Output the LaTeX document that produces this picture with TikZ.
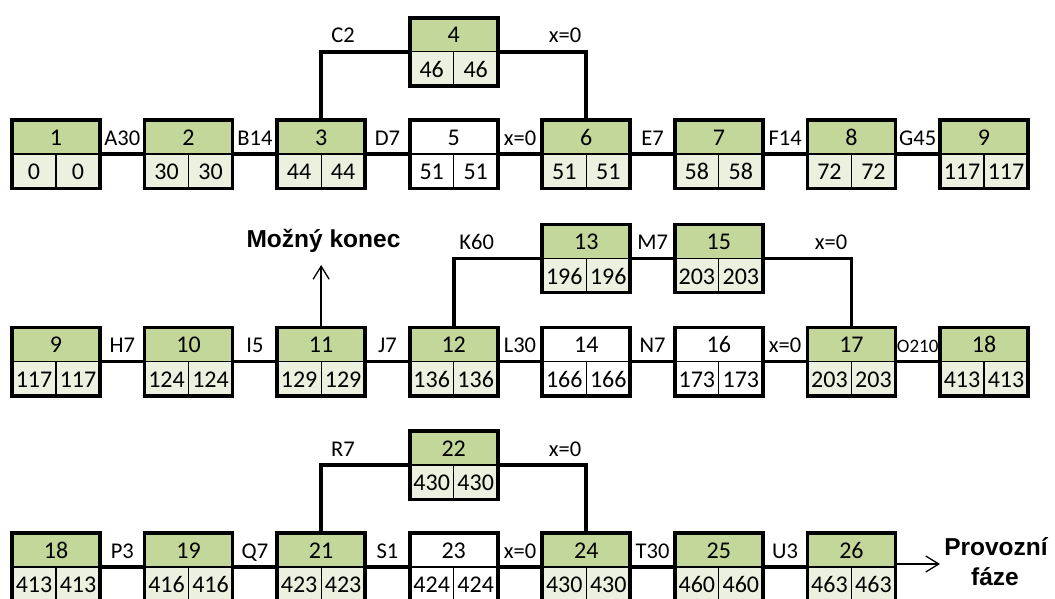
\documentclass[tikz,border=0pt]{standalone}
\usepackage{fontspec}
\setmainfont{Carlito}
\newfontfamily\boldsans{Liberation Sans}
\usetikzlibrary{arrows.meta}
\definecolor{hdrgreen}{HTML}{C4D79B}
\definecolor{celllight}{HTML}{EBF1DE}
\tikzset{
  hdrg/.style={draw=black, line width=1.2pt, fill=hdrgreen, minimum width=88pt, minimum height=34pt,
    inner sep=0pt, outer sep=0pt, text height=16pt, text depth=0pt, font=\fontsize{24}{28}\selectfont},
  hdrw/.style={hdrg, fill=white},
  cellg/.style={draw=black, line width=1.2pt, fill=celllight, minimum width=44pt, minimum height=34.3pt,
    inner sep=0pt, outer sep=0pt, text height=17.1pt, text depth=0pt, font=\fontsize{24}{28}\selectfont},
  cellw/.style={cellg, fill=white},
  border/.style={draw=black, line width=3.6pt},
  conn/.style={draw=black, line width=3.6pt},
  lbl/.style={anchor=base, inner sep=0pt, font=\fontsize{22.5}{26}\selectfont},
  lblsm/.style={lbl, font=\fontsize{19}{22}\selectfont},
  bigtxt/.style={anchor=base, inner sep=0pt, font=\boldsans\bfseries\fontsize{24.5}{30}\selectfont},
  arr/.style={draw=black, line width=1.3pt, -{Straight Barb[length=13pt,width=16pt]}},
}
\newcommand\netbox[7]{%
  \node[hdr#7] (#1) at (#2,#3-17) {#4};
  \node[cell#7] (#1l) at (#2-22,#3+17.15) {#5};
  \node[cell#7] (#1r) at (#2+22,#3+17.15) {#6};
  \draw[border] (#1.north west) rectangle (#1r.south east);
}
\begin{document}
\begin{tikzpicture}[x=1pt,y=-1pt]
\useasboundingbox (0,0) rectangle (1055,598);
\clip (0,0) rectangle (1055,598);
% column centres
\def\cA{56}\def\cB{188.57}\def\cC{321.14}\def\cD{453.71}
\def\cE{586.28}\def\cF{718.85}\def\cG{851.42}\def\cH{983.99}
% ---------- row 1 ----------
\netbox{b1}{\cA}{154}{1}{0}{0}{g}
\netbox{b2}{\cB}{154}{2}{30}{30}{g}
\netbox{b3}{\cC}{154}{3}{44}{44}{g}
\netbox{b5}{\cD}{154}{5}{51}{51}{w}
\netbox{b6}{\cE}{154}{6}{51}{51}{g}
\netbox{b7}{\cF}{154}{7}{58}{58}{g}
\netbox{b8}{\cG}{154}{8}{72}{72}{g}
\netbox{b9}{\cH}{154}{9}{117}{117}{g}
\netbox{b4}{\cD}{51.7}{4}{46}{46}{g}
\draw[conn] (b1.south east) -- (b2.south west);
\draw[conn] (b2.south east) -- (b3.south west);
\draw[conn] (b3.south east) -- (b5.south west);
\draw[conn] (b5.south east) -- (b6.south west);
\draw[conn] (b6.south east) -- (b7.south west);
\draw[conn] (b7.south east) -- (b8.south west);
\draw[conn] (b8.south east) -- (b9.south west);
\draw[conn] (b3.north) |- (b4.south west);
\draw[conn] (b4.south east) -| (b6.north);
\node[lbl] (lA) at (122.3,145.5) {A30};
\node[lbl] (lB) at (254.9,145.5) {B14};
\node[lbl] (lD) at (387.4,145.5) {D7};
\node[lbl] (lx1) at (520.0,145.5) {x=0};
\node[lbl] (lE) at (652.6,145.5) {E7};
\node[lbl] (lF) at (785.1,145.5) {F14};
\node[lbl] (lG) at (917.7,145.5) {G45};
\node[lbl] (lC) at (343,42.7) {C2};
\node[lbl] (lx2) at (565,42.7) {x=0};
% ---------- row 2 ----------
\netbox{c9}{\cA}{361.5}{9}{117}{117}{g}
\netbox{c10}{\cB}{361.5}{10}{124}{124}{g}
\netbox{c11}{\cC}{361.5}{11}{129}{129}{g}
\netbox{c12}{\cD}{361.5}{12}{136}{136}{g}
\netbox{c14}{\cE}{361.5}{14}{166}{166}{w}
\netbox{c16}{\cF}{361.5}{16}{173}{173}{w}
\netbox{c17}{\cG}{361.5}{17}{203}{203}{g}
\netbox{c18}{\cH}{361.5}{18}{413}{413}{g}
\netbox{c13}{\cE}{258.3}{13}{196}{196}{g}
\netbox{c15}{\cF}{258.3}{15}{203}{203}{g}
\draw[conn] (c9.south east) -- (c10.south west);
\draw[conn] (c10.south east) -- (c11.south west);
\draw[conn] (c11.south east) -- (c12.south west);
\draw[conn] (c12.south east) -- (c14.south west);
\draw[conn] (c14.south east) -- (c16.south west);
\draw[conn] (c16.south east) -- (c17.south west);
\draw[conn] (c17.south east) -- (c18.south west);
\draw[conn] (c12.north) |- (c13.south west);
\draw[conn] (c13.south east) -- (c15.south west);
\draw[conn] (c15.south east) -| (c17.north);
\node[lbl] (lH) at (122.3,352.5) {H7};
\node[lbl] (lI) at (254.9,352.5) {I5};
\node[lbl] (lJ) at (387.4,352.5) {J7};
\node[lbl] (lL) at (520.0,352.5) {L30};
\node[lbl] (lN) at (652.6,352.5) {N7};
\node[lbl] (lx3) at (785.1,352.5) {x=0};
\node[lblsm] (lO) at (917.7,352.5) {O210};
\node[lbl] (lK) at (476.7,249.3) {K60};
\node[lbl] (lM) at (652.6,249.3) {M7};
\node[lbl] (lx4) at (831,249.3) {x=0};
\coordinate (mkend) at (\cC,265);
\draw[arr] (c11.north) -- (mkend);
\node[bigtxt] (mk) at (323.5,247) {Možný konec};
% ---------- row 3 ----------
\netbox{d18}{\cA}{567}{18}{413}{413}{g}
\netbox{d19}{\cB}{567}{19}{416}{416}{g}
\netbox{d21}{\cC}{567}{21}{423}{423}{g}
\netbox{d23}{\cD}{567}{23}{424}{424}{w}
\netbox{d24}{\cE}{567}{24}{430}{430}{g}
\netbox{d25}{\cF}{567}{25}{460}{460}{g}
\netbox{d26}{\cG}{567}{26}{463}{463}{g}
\netbox{d22}{\cD}{465}{22}{430}{430}{g}
\draw[conn] (d18.south east) -- (d19.south west);
\draw[conn] (d19.south east) -- (d21.south west);
\draw[conn] (d21.south east) -- (d23.south west);
\draw[conn] (d23.south east) -- (d24.south west);
\draw[conn] (d24.south east) -- (d25.south west);
\draw[conn] (d25.south east) -- (d26.south west);
\draw[conn] (d21.north) |- (d22.south west);
\draw[conn] (d22.south east) -| (d24.north);
\node[lbl] (lP) at (122.3,558) {P3};
\node[lbl] (lQ) at (254.9,558) {Q7};
\node[lbl] (lS) at (387.4,558) {S1};
\node[lbl] (lx5) at (520.0,558) {x=0};
\node[lbl] (lT) at (652.6,558) {T30};
\node[lbl] (lU) at (785.1,558) {U3};
\node[lbl] (lR) at (343,456) {R7};
\node[lbl] (lx6) at (565,456) {x=0};
\coordinate (pfend) at (940,564);
\draw[arr] (pfend -| d26.east) -- (pfend);
\node[bigtxt] (pf1) at (996,555) {Provozní};
\node[bigtxt] (pf2) at (995,585) {fáze};
\end{tikzpicture}
\end{document}
